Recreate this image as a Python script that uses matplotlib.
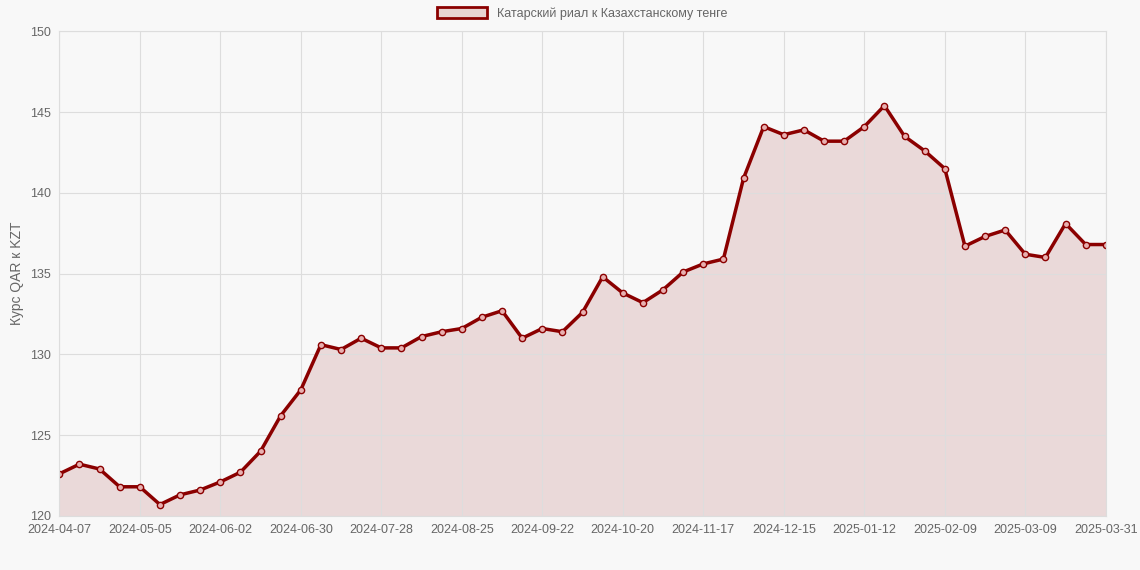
import matplotlib
matplotlib.use("Agg")
import matplotlib.pyplot as plt
import pandas as pd

plt.rcParams['font.family'] = ['Liberation Sans', 'DejaVu Sans']

dates = [d.strftime("%Y-%m-%d") for d in pd.date_range("2024-04-07", periods=53, freq="7D")]
dates[-1] = "2025-03-31"
values = [122.6, 123.2, 122.9, 121.8, 121.8, 120.7, 121.3, 121.6, 122.1, 122.7,
          124.0, 126.2, 127.8, 130.6, 130.3, 131.0, 130.4, 130.4, 131.1, 131.4,
          131.6, 132.3, 132.7, 131.0, 131.6, 131.4, 132.6, 134.8, 133.8, 133.2,
          134.0, 135.1, 135.6, 135.9, 140.9, 144.1, 143.6, 143.9, 143.2, 143.2,
          144.1, 145.4, 143.5, 142.6, 141.5, 136.7, 137.3, 137.7, 136.2, 136.0,
          138.1, 136.8, 136.8]
label = "Катарский риал к Казахстанскому тенге"
ylabel = "Курс QAR к KZT"

fig = plt.figure(figsize=(11.4, 5.7), dpi=100, facecolor="#f8f8f8")
ax = fig.add_axes([0.052, 0.095, 0.918, 0.85])
ax.set_facecolor("#f8f8f8")
x = list(range(len(values)))
ax.fill_between(x, values, 120, color="#8b0000", alpha=0.12, linewidth=0)
ax.plot(x, values, color="#8b0000", linewidth=2.5, marker="o", markersize=4.5,
        markerfacecolor="#e8b0b0", markeredgecolor="#8b0000", markeredgewidth=1)
ax.set_xlim(0, len(values) - 1)
ax.set_ylim(120, 150)
ticks = list(range(0, len(values) - 1, 4)) + [len(values) - 1]
ax.set_xticks(ticks)
ax.set_xticklabels([dates[i] for i in ticks])
ax.set_yticks(range(120, 151, 5))
ax.grid(True, color="#dddddd", linewidth=0.8)
for s in ax.spines.values():
    s.set_color("#dddddd")
ax.tick_params(colors="#666666", labelsize=9, length=0, pad=6)
ax.set_ylabel(ylabel, color="#666666", fontsize=10)
leg = ax.legend([plt.Rectangle((0, 0), 1, 1, facecolor="#e8d4d2", edgecolor="#8b0000", linewidth=2)],
                [label], loc="lower center", bbox_to_anchor=(0.5, 1.0), frameon=False,
                fontsize=9, handlelength=4, handleheight=1)
for t in leg.get_texts():
    t.set_color("#666666")
fig.savefig("out.png", dpi=100, facecolor=fig.get_facecolor())
